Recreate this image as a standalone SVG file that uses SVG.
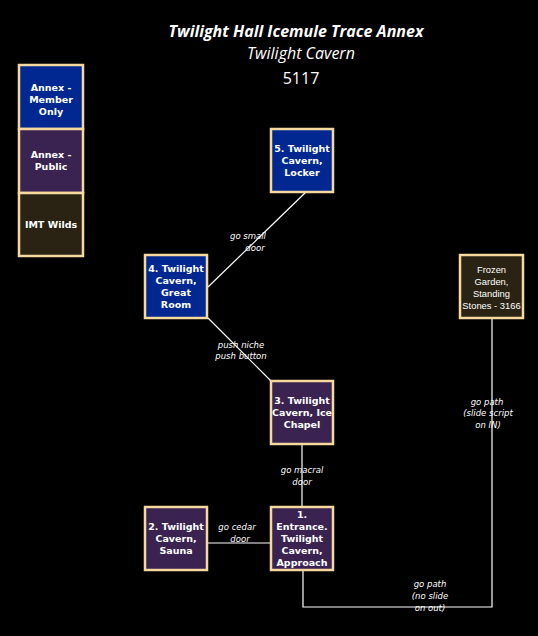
<svg xmlns="http://www.w3.org/2000/svg" width="538" height="636" viewBox="0 0 538 636">
<style>
.bg{fill:#000}
.box{stroke:#F7D9A0;stroke-width:2.5}
.blue{fill:#002890}
.purple{fill:#3A2350}
.dark{fill:#2A2313}
.nt{font-family:"DejaVu Sans","Liberation Sans",sans-serif;font-size:9.5px;font-weight:bold;fill:#fff;text-anchor:middle}
.nt2{font-family:"Liberation Sans",sans-serif;font-size:9.4px;fill:#fff;text-anchor:middle}
.edge{stroke:#fff;stroke-width:1.2;fill:none}
.el{font-family:"DejaVu Sans","Liberation Sans",sans-serif;font-size:8.5px;font-style:italic;fill:#fff;text-anchor:middle}
.title{font-family:"Open Sans","Liberation Sans",sans-serif;fill:#fff;text-anchor:middle}
</style>
<rect class="bg" x="0" y="0" width="538" height="636"/>
<g id="title">
<text class="title" x="296" y="37" font-size="16" font-weight="bold" font-style="italic">Twilight Hall Icemule Trace Annex</text>
<text class="title" x="301" y="59" font-size="16" font-style="italic">Twilight Cavern</text>
<text class="title" x="301" y="84" font-size="16">5117</text>
</g>
<g id="legend">
<rect class="box blue" x="19" y="65" width="64" height="64"/>
<text class="nt" x="51" y="91">Annex -</text>
<text class="nt" x="51" y="103">Member</text>
<text class="nt" x="51" y="115">Only</text>
<rect class="box purple" x="19" y="129" width="64" height="64"/>
<text class="nt" x="51" y="158">Annex -</text>
<text class="nt" x="51" y="170">Public</text>
<rect class="box dark" x="19" y="193" width="64" height="63"/>
<text class="nt" x="51" y="228">IMT Wilds</text>
</g>
<g id="connectors">
<line class="edge" x1="306" y1="192" x2="208" y2="287"/>
<line class="edge" x1="208" y1="318" x2="271" y2="381"/>
<line class="edge" x1="302" y1="444" x2="302" y2="506"/>
<line class="edge" x1="208" y1="543" x2="270" y2="543"/>
<polyline class="edge" points="303,570 303,607 492,607 492,318"/>
<text class="el" x="248" y="239">go small</text>
<text class="el" x="255" y="251">door</text>
<text class="el" x="241" y="348">push niche</text>
<text class="el" x="241" y="359">push button</text>
<text class="el" x="302" y="473">go macral</text>
<text class="el" x="302" y="485">door</text>
<text class="el" x="237" y="530">go cedar</text>
<text class="el" x="240" y="542">door</text>
<text class="el" x="487" y="405">go path</text>
<text class="el" x="488" y="416">(slide script</text>
<text class="el" x="488" y="428">on IN)</text>
<text class="el" x="430" y="587">go path</text>
<text class="el" x="430" y="599">(no slide</text>
<text class="el" x="430" y="611">on out)</text>
</g>
<g id="n5">
<rect class="box blue" x="271" y="129" width="62" height="63"/>
<text class="nt" x="302" y="152">5. Twilight</text>
<text class="nt" x="302" y="164">Cavern,</text>
<text class="nt" x="302" y="176">Locker</text>
</g>
<g id="n4">
<rect class="box blue" x="145" y="255" width="62" height="63"/>
<text class="nt" x="176" y="272">4. Twilight</text>
<text class="nt" x="176" y="284">Cavern,</text>
<text class="nt" x="176" y="296">Great</text>
<text class="nt" x="176" y="308">Room</text>
</g>
<g id="n3">
<rect class="box purple" x="271" y="381" width="62" height="63"/>
<text class="nt" x="302" y="404">3. Twilight</text>
<text class="nt" x="302" y="416">Cavern, Ice</text>
<text class="nt" x="302" y="428">Chapel</text>
</g>
<g id="n1">
<rect class="box purple" x="271" y="507" width="62" height="63"/>
<text class="nt" x="302" y="518">1.</text>
<text class="nt" x="302" y="530">Entrance.</text>
<text class="nt" x="302" y="542">Twilight</text>
<text class="nt" x="302" y="554">Cavern,</text>
<text class="nt" x="302" y="566">Approach</text>
</g>
<g id="n2">
<rect class="box purple" x="145" y="507" width="62" height="63"/>
<text class="nt" x="176" y="530">2. Twilight</text>
<text class="nt" x="176" y="542">Cavern,</text>
<text class="nt" x="176" y="554">Sauna</text>
</g>
<g id="frozen">
<rect class="box dark" x="460" y="255" width="63" height="63"/>
<text class="nt2" x="491.5" y="273">Frozen</text>
<text class="nt2" x="491.5" y="285">Garden,</text>
<text class="nt2" x="491.5" y="297">Standing</text>
<text class="nt2" x="491.5" y="309">Stones - 3166</text>
</g>
</svg>
